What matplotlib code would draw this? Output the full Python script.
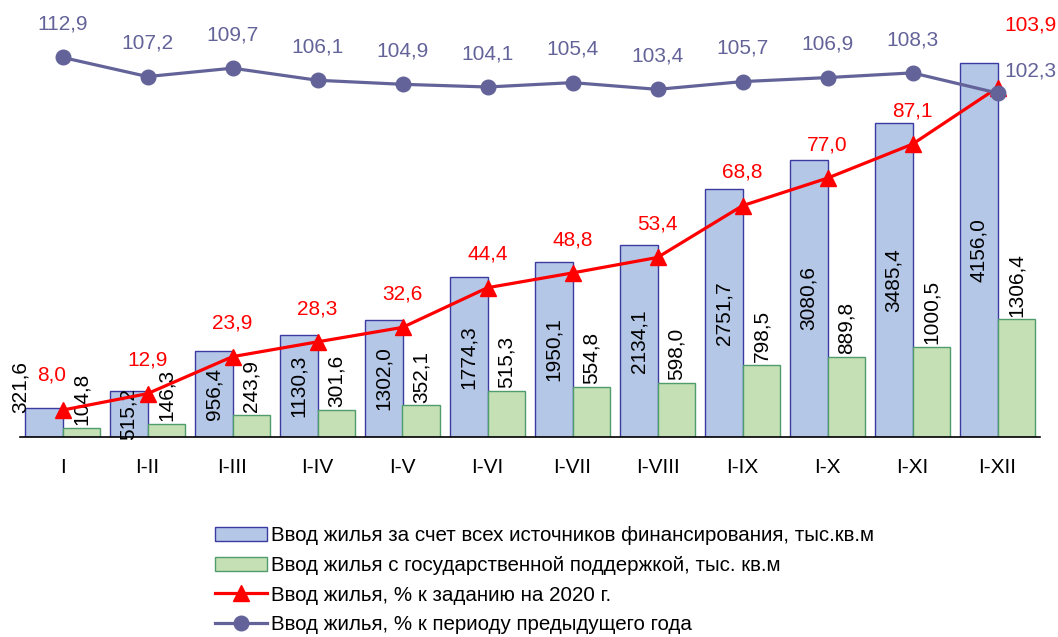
import numpy as np
from matplotlib import pyplot as plt

plt.rcParams['font.family'] = ['Liberation Sans', 'DejaVu Sans']

## data
periods = ['I', 'I-II', 'I-III', 'I-IV', 'I-V', 'I-VI', 'I-VII', 'I-VIII',
           'I-IX', 'I-X', 'I-XI', 'I-XII']
total = [321.6, 515.2, 956.4, 1130.3, 1302.0, 1774.3, 1950.1, 2134.1,
         2751.7, 3080.6, 3485.4, 4156.0]
state = [104.8, 146.3, 243.9, 301.6, 352.1, 515.3, 554.8, 598.0,
         798.5, 889.8, 1000.5, 1306.4]
plan_pct = [8.0, 12.9, 23.9, 28.3, 32.6, 44.4, 48.8, 53.4, 68.8, 77.0, 87.1, 103.9]
prev_pct = [112.9, 107.2, 109.7, 106.1, 104.9, 104.1, 105.4, 103.4, 105.7, 106.9, 108.3, 102.3]

lbl_total = 'Ввод жилья за счет всех источников финансирования, тыс.кв.м'
lbl_state = 'Ввод жилья с государственной поддержкой, тыс. кв.м'
lbl_plan = 'Ввод жилья, % к заданию на 2020 г.'
lbl_prev = 'Ввод жилья, % к периоду предыдущего года'

def fmt(v):
    return ('%.1f' % v).replace('.', ',')

x = np.arange(len(periods))
w = 0.447
purple = '#636399'
fs = 15
last = len(periods) - 1

fig = plt.figure(figsize=(10.58, 6.37), dpi=100)
ax = fig.add_axes([20/1058, 200/637, 1020/1058, 427/637])

b1 = ax.bar(x - w/2, total, w, color='#b4c7e7', edgecolor='#3a3aa0', linewidth=1, label=lbl_total)
b2 = ax.bar(x + w/2, state, w, color='#c5e0b4', edgecolor='#4f9d6c', linewidth=1, label=lbl_state)
ax.set_xlim(-0.5, 11.5)
ax.set_ylim(0, 4745)
for s in ['top', 'right', 'left']:
    ax.spines[s].set_visible(False)
ax.spines['bottom'].set_linewidth(1.2)
ax.set_yticks([])
ax.set_xticks(x)
ax.set_xticklabels(periods, fontsize=fs)
ax.tick_params(axis='x', length=0, pad=15)

for i, v in enumerate(total):
    if v > 400:
        ax.text(x[i] - w/2, v / 2, fmt(v), rotation=90, ha='center', va='center', fontsize=fs)
    else:
        # short bar: label pushed up and to the left, as in the source
        ax.annotate(fmt(v), (x[i] - w/2, v), xytext=(-17, 15), textcoords='offset points',
                    rotation=90, ha='center', va='center', fontsize=fs)
for i, v in enumerate(state):
    ax.annotate(fmt(v), (x[i] + w/2, v), xytext=(0, 2), textcoords='offset points',
                rotation=90, ha='center', va='bottom', fontsize=fs)

ax2 = ax.twinx()
ax2.set_ylim(0, 127)
ax2.axis('off')
l1, = ax2.plot(x, plan_pct, color='red', lw=2.3, marker='^', ms=11, label=lbl_plan)
l2, = ax2.plot(x, prev_pct, color=purple, lw=2.3, marker='o', ms=10.5, label=lbl_prev)

for i, v in enumerate(plan_pct):
    off = (0, 24)
    if i == last:
        off = (24, 45)
    elif i == 0:
        off = (-8, 25)
    ax2.annotate(fmt(v), (x[i], v), xytext=off, textcoords='offset points',
                 ha='center', va='center', color='red', fontsize=fs)
for i, v in enumerate(prev_pct):
    off = (24, 16) if i == last else (0, 24)
    ax2.annotate(fmt(v), (x[i], v), xytext=off, textcoords='offset points',
                 ha='center', va='center', color=purple, fontsize=fs)

fig.legend(handles=[b1, b2, l1, l2], loc='upper left', bbox_to_anchor=(207/1058, 1 - 518/637),
           frameon=False, fontsize=14.8, handlelength=2.5, handletextpad=0.2,
           labelspacing=0.52, borderaxespad=0)

fig.savefig('out.png', dpi=100)
